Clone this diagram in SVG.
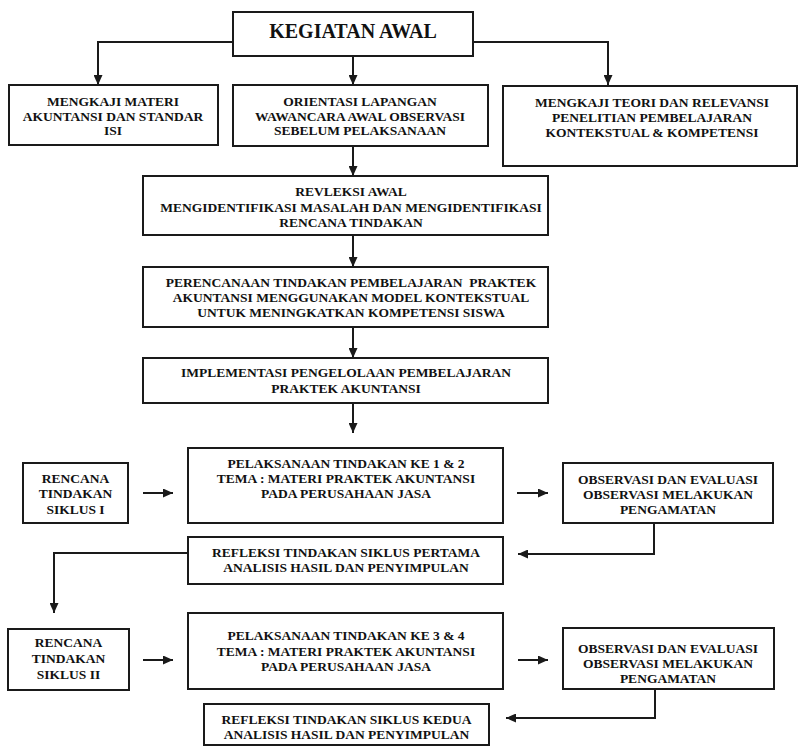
<svg xmlns="http://www.w3.org/2000/svg" width="799" height="749" viewBox="0 0 799 749">
<style>
.box{fill:#fff;stroke:#1a1a1a;stroke-width:2}
.t{font-family:"Liberation Serif","Times New Roman",serif;font-weight:bold;font-size:13.5px;fill:#111;text-anchor:middle}
.big{font-size:20px}
.c{fill:none;stroke:#1a1a1a;stroke-width:2;marker-end:url(#ah)}
</style>
<defs>
<marker id="ah" markerUnits="userSpaceOnUse" markerWidth="11" markerHeight="9" refX="10" refY="4.5" orient="auto">
<path d="M0,0 L10,4.5 L0,9 z" fill="#1a1a1a"/>
</marker>
</defs>
<rect width="799" height="749" fill="#fff"/>
<g id="connectors">
<path class="c" d="M233,42 H98 V85"/>
<path class="c" d="M353,56 V85"/>
<path class="c" d="M473,42 H608 V85"/>
<path class="c" d="M353,146 V176"/>
<path class="c" d="M353,235 V267"/>
<path class="c" d="M353,327 V358"/>
<path class="c" d="M353,403 V433"/>
<path class="c" d="M143,493 H173"/>
<path class="c" d="M517,493 H548"/>
<path class="c" d="M654,523 V554 H518"/>
<path class="c" d="M188,553 H54 V613"/>
<path class="c" d="M143,660 H173"/>
<path class="c" d="M518,660 H548"/>
<path class="c" d="M655,689 V718 H506"/>
</g>
<g id="kegiatan-awal">
<rect class="box" x="233" y="12" width="240" height="44"/>
<text class="t big" x="353" y="38">KEGIATAN AWAL</text>
</g>
<g id="mengkaji-materi">
<rect class="box" x="9" y="85" width="209" height="60"/>
<text class="t" x="113" y="106">MENGKAJI MATERI</text>
<text class="t" x="113" y="121">AKUNTANSI DAN STANDAR</text>
<text class="t" x="113" y="135">ISI</text>
</g>
<g id="orientasi">
<rect class="box" x="233" y="85" width="255" height="61"/>
<text class="t" x="360" y="106">ORIENTASI LAPANGAN</text>
<text class="t" x="360" y="121">WAWANCARA AWAL OBSERVASI</text>
<text class="t" x="360" y="135">SEBELUM PELAKSANAAN</text>
</g>
<g id="mengkaji-teori">
<rect class="box" x="503" y="86" width="294" height="80"/>
<text class="t" x="652" y="107">MENGKAJI TEORI DAN RELEVANSI</text>
<text class="t" x="652" y="122">PENELITIAN PEMBELAJARAN</text>
<text class="t" x="652" y="137">KONTEKSTUAL &amp; KOMPETENSI</text>
</g>
<g id="revleksi-awal">
<rect class="box" x="143" y="176" width="405" height="59"/>
<text class="t" x="351" y="196">REVLEKSI AWAL</text>
<text class="t" x="351" y="212">MENGIDENTIFIKASI MASALAH DAN MENGIDENTIFIKASI</text>
<text class="t" x="351" y="227">RENCANA TINDAKAN</text>
</g>
<g id="perencanaan">
<rect class="box" x="143" y="267" width="405" height="60"/>
<text class="t" x="351" y="287" xml:space="preserve">PERENCANAAN TINDAKAN PEMBELAJARAN  PRAKTEK</text>
<text class="t" x="351" y="302">AKUNTANSI MENGGUNAKAN MODEL KONTEKSTUAL</text>
<text class="t" x="351" y="317">UNTUK MENINGKATKAN KOMPETENSI SISWA</text>
</g>
<g id="implementasi">
<rect class="box" x="143" y="358" width="405" height="45"/>
<text class="t" x="346" y="377">IMPLEMENTASI PENGELOLAAN PEMBELAJARAN</text>
<text class="t" x="346" y="393">PRAKTEK AKUNTANSI</text>
</g>
<g id="rencana-siklus-1">
<rect class="box" x="23" y="463" width="105" height="60"/>
<text class="t" x="75.5" y="483">RENCANA</text>
<text class="t" x="75.5" y="498">TINDAKAN</text>
<text class="t" x="75.5" y="514">SIKLUS I</text>
</g>
<g id="pelaksanaan-1">
<rect class="box" x="188" y="448" width="315" height="75"/>
<text class="t" x="346" y="468">PELAKSANAAN TINDAKAN KE 1 &amp; 2</text>
<text class="t" x="346" y="483">TEMA : MATERI PRAKTEK AKUNTANSI</text>
<text class="t" x="346" y="498">PADA PERUSAHAAN JASA</text>
</g>
<g id="observasi-1">
<rect class="box" x="563" y="463" width="210" height="60"/>
<text class="t" x="668" y="484">OBSERVASI DAN EVALUASI</text>
<text class="t" x="668" y="499">OBSERVASI MELAKUKAN</text>
<text class="t" x="668" y="514">PENGAMATAN</text>
</g>
<g id="refleksi-1">
<rect class="box" x="188" y="537" width="315" height="47"/>
<text class="t" x="346" y="557">REFLEKSI TINDAKAN SIKLUS PERTAMA</text>
<text class="t" x="346" y="572">ANALISIS HASIL DAN PENYIMPULAN</text>
</g>
<g id="rencana-siklus-2">
<rect class="box" x="8" y="629" width="121" height="61"/>
<text class="t" x="68.5" y="647">RENCANA</text>
<text class="t" x="68.5" y="663">TINDAKAN</text>
<text class="t" x="68.5" y="679">SIKLUS II</text>
</g>
<g id="pelaksanaan-2">
<rect class="box" x="188" y="613" width="315" height="76"/>
<text class="t" x="346" y="640">PELAKSANAAN TINDAKAN KE 3 &amp; 4</text>
<text class="t" x="346" y="656">TEMA : MATERI PRAKTEK AKUNTANSI</text>
<text class="t" x="346" y="671">PADA PERUSAHAAN JASA</text>
</g>
<g id="observasi-2">
<rect class="box" x="563" y="628" width="211" height="61"/>
<text class="t" x="668" y="653">OBSERVASI DAN EVALUASI</text>
<text class="t" x="668" y="668">OBSERVASI MELAKUKAN</text>
<text class="t" x="668" y="683">PENGAMATAN</text>
</g>
<g id="refleksi-2">
<rect class="box" x="204" y="704" width="285" height="41"/>
<text class="t" x="346.5" y="724">REFLEKSI TINDAKAN SIKLUS KEDUA</text>
<text class="t" x="346.5" y="739">ANALISIS HASIL DAN PENYIMPULAN</text>
</g>
</svg>
